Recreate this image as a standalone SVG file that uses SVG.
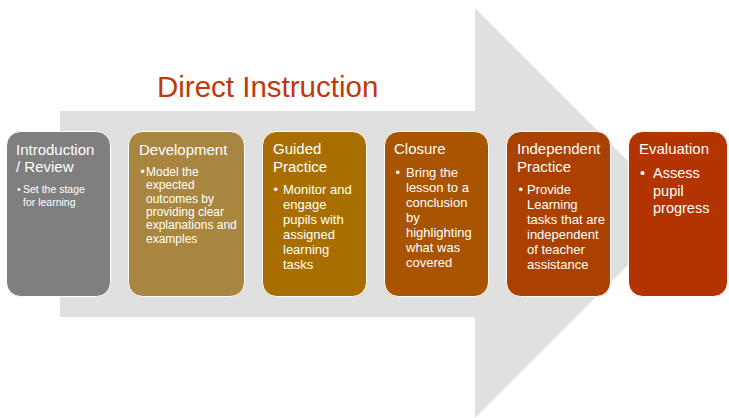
<svg xmlns="http://www.w3.org/2000/svg" width="729" height="418" viewBox="0 0 729 418">
<style>
  text { font-family: "Liberation Sans", Arial, sans-serif; fill: #ffffff; }
  .title { font-size: 29.5px; fill: #c0390b; }
  .head { font-size: 15px; }
  .b11 { font-size: 10.5px; }
  .b12 { font-size: 12px; }
  .b13 { font-size: 13px; }
  .b14 { font-size: 14.5px; }
  .box { stroke: #ffffff; stroke-width: 1; }
</style>
<rect width="729" height="418" fill="#ffffff"/>
<g id="flow-arrow">
  <path d="M60,111 H475 V8 L680,213 L475,418 V317 H60 Z" fill="#e0e0e0"/>
</g>
<text class="title" x="157" y="97">Direct Instruction</text>
<g id="connectors"></g>
<g id="introduction-review">
  <rect class="box" x="6.5" y="131.5" width="104" height="165" rx="14" fill="#7f7f7f"/>
  <text class="head" x="16" y="155">Introduction</text>
  <text class="head" x="16" y="172">/ Review</text>
  <text class="b11" x="17" y="193">•</text>
  <text class="b11" x="23" y="193">Set the stage</text>
  <text class="b11" x="23" y="206">for learning</text>
</g>
<g id="development">
  <rect class="box" x="128.5" y="131.5" width="116" height="165" rx="14" fill="#a9863f"/>
  <text class="head" x="139" y="155">Development</text>
  <text class="b12" x="140.5" y="176">•</text>
  <text class="b12" x="146" y="176">Model the</text>
  <text class="b12" x="146" y="189.3">expected</text>
  <text class="b12" x="146" y="202.6">outcomes by</text>
  <text class="b12" x="146" y="215.9">providing clear</text>
  <text class="b12" x="146" y="229.2">explanations and</text>
  <text class="b12" x="146" y="242.5">examples</text>
</g>
<g id="guided-practice">
  <rect class="box" x="262.5" y="131.5" width="104" height="165" rx="14" fill="#a86f00"/>
  <text class="head" x="273" y="154">Guided</text>
  <text class="head" x="273" y="172">Practice</text>
  <text class="b13" x="273.5" y="194">•</text>
  <text class="b13" x="283" y="194">Monitor and</text>
  <text class="b13" x="283" y="209">engage</text>
  <text class="b13" x="283" y="224">pupils with</text>
  <text class="b13" x="283" y="239">assigned</text>
  <text class="b13" x="283" y="254">learning</text>
  <text class="b13" x="283" y="269">tasks</text>
</g>
<g id="closure">
  <rect class="box" x="384.5" y="131.5" width="104" height="165" rx="14" fill="#a95400"/>
  <text class="head" x="394" y="154">Closure</text>
  <text class="b13" x="395.5" y="177">•</text>
  <text class="b13" x="406" y="177">Bring the</text>
  <text class="b13" x="406" y="192">lesson to a</text>
  <text class="b13" x="406" y="207">conclusion</text>
  <text class="b13" x="406" y="222">by</text>
  <text class="b13" x="406" y="237">highlighting</text>
  <text class="b13" x="406" y="252">what was</text>
  <text class="b13" x="406" y="267">covered</text>
</g>
<g id="independent-practice">
  <rect class="box" x="506.5" y="131.5" width="104" height="165" rx="14" fill="#aa4100"/>
  <text class="head" x="517" y="154">Independent</text>
  <text class="head" x="517" y="172">Practice</text>
  <text class="b13" x="518.5" y="194">•</text>
  <text class="b13" x="527" y="194">Provide</text>
  <text class="b13" x="527" y="209">Learning</text>
  <text class="b13" x="527" y="224">tasks that are</text>
  <text class="b13" x="527" y="239">independent</text>
  <text class="b13" x="527" y="254">of teacher</text>
  <text class="b13" x="527" y="269">assistance</text>
</g>
<g id="evaluation">
  <rect class="box" x="628.5" y="131.5" width="99" height="165" rx="14" fill="#b43400"/>
  <text class="head" x="639" y="154">Evaluation</text>
  <text class="b14" x="640" y="178">•</text>
  <text class="b14" x="653" y="178">Assess</text>
  <text class="b14" x="653" y="195.5">pupil</text>
  <text class="b14" x="653" y="213">progress</text>
</g>
</svg>
